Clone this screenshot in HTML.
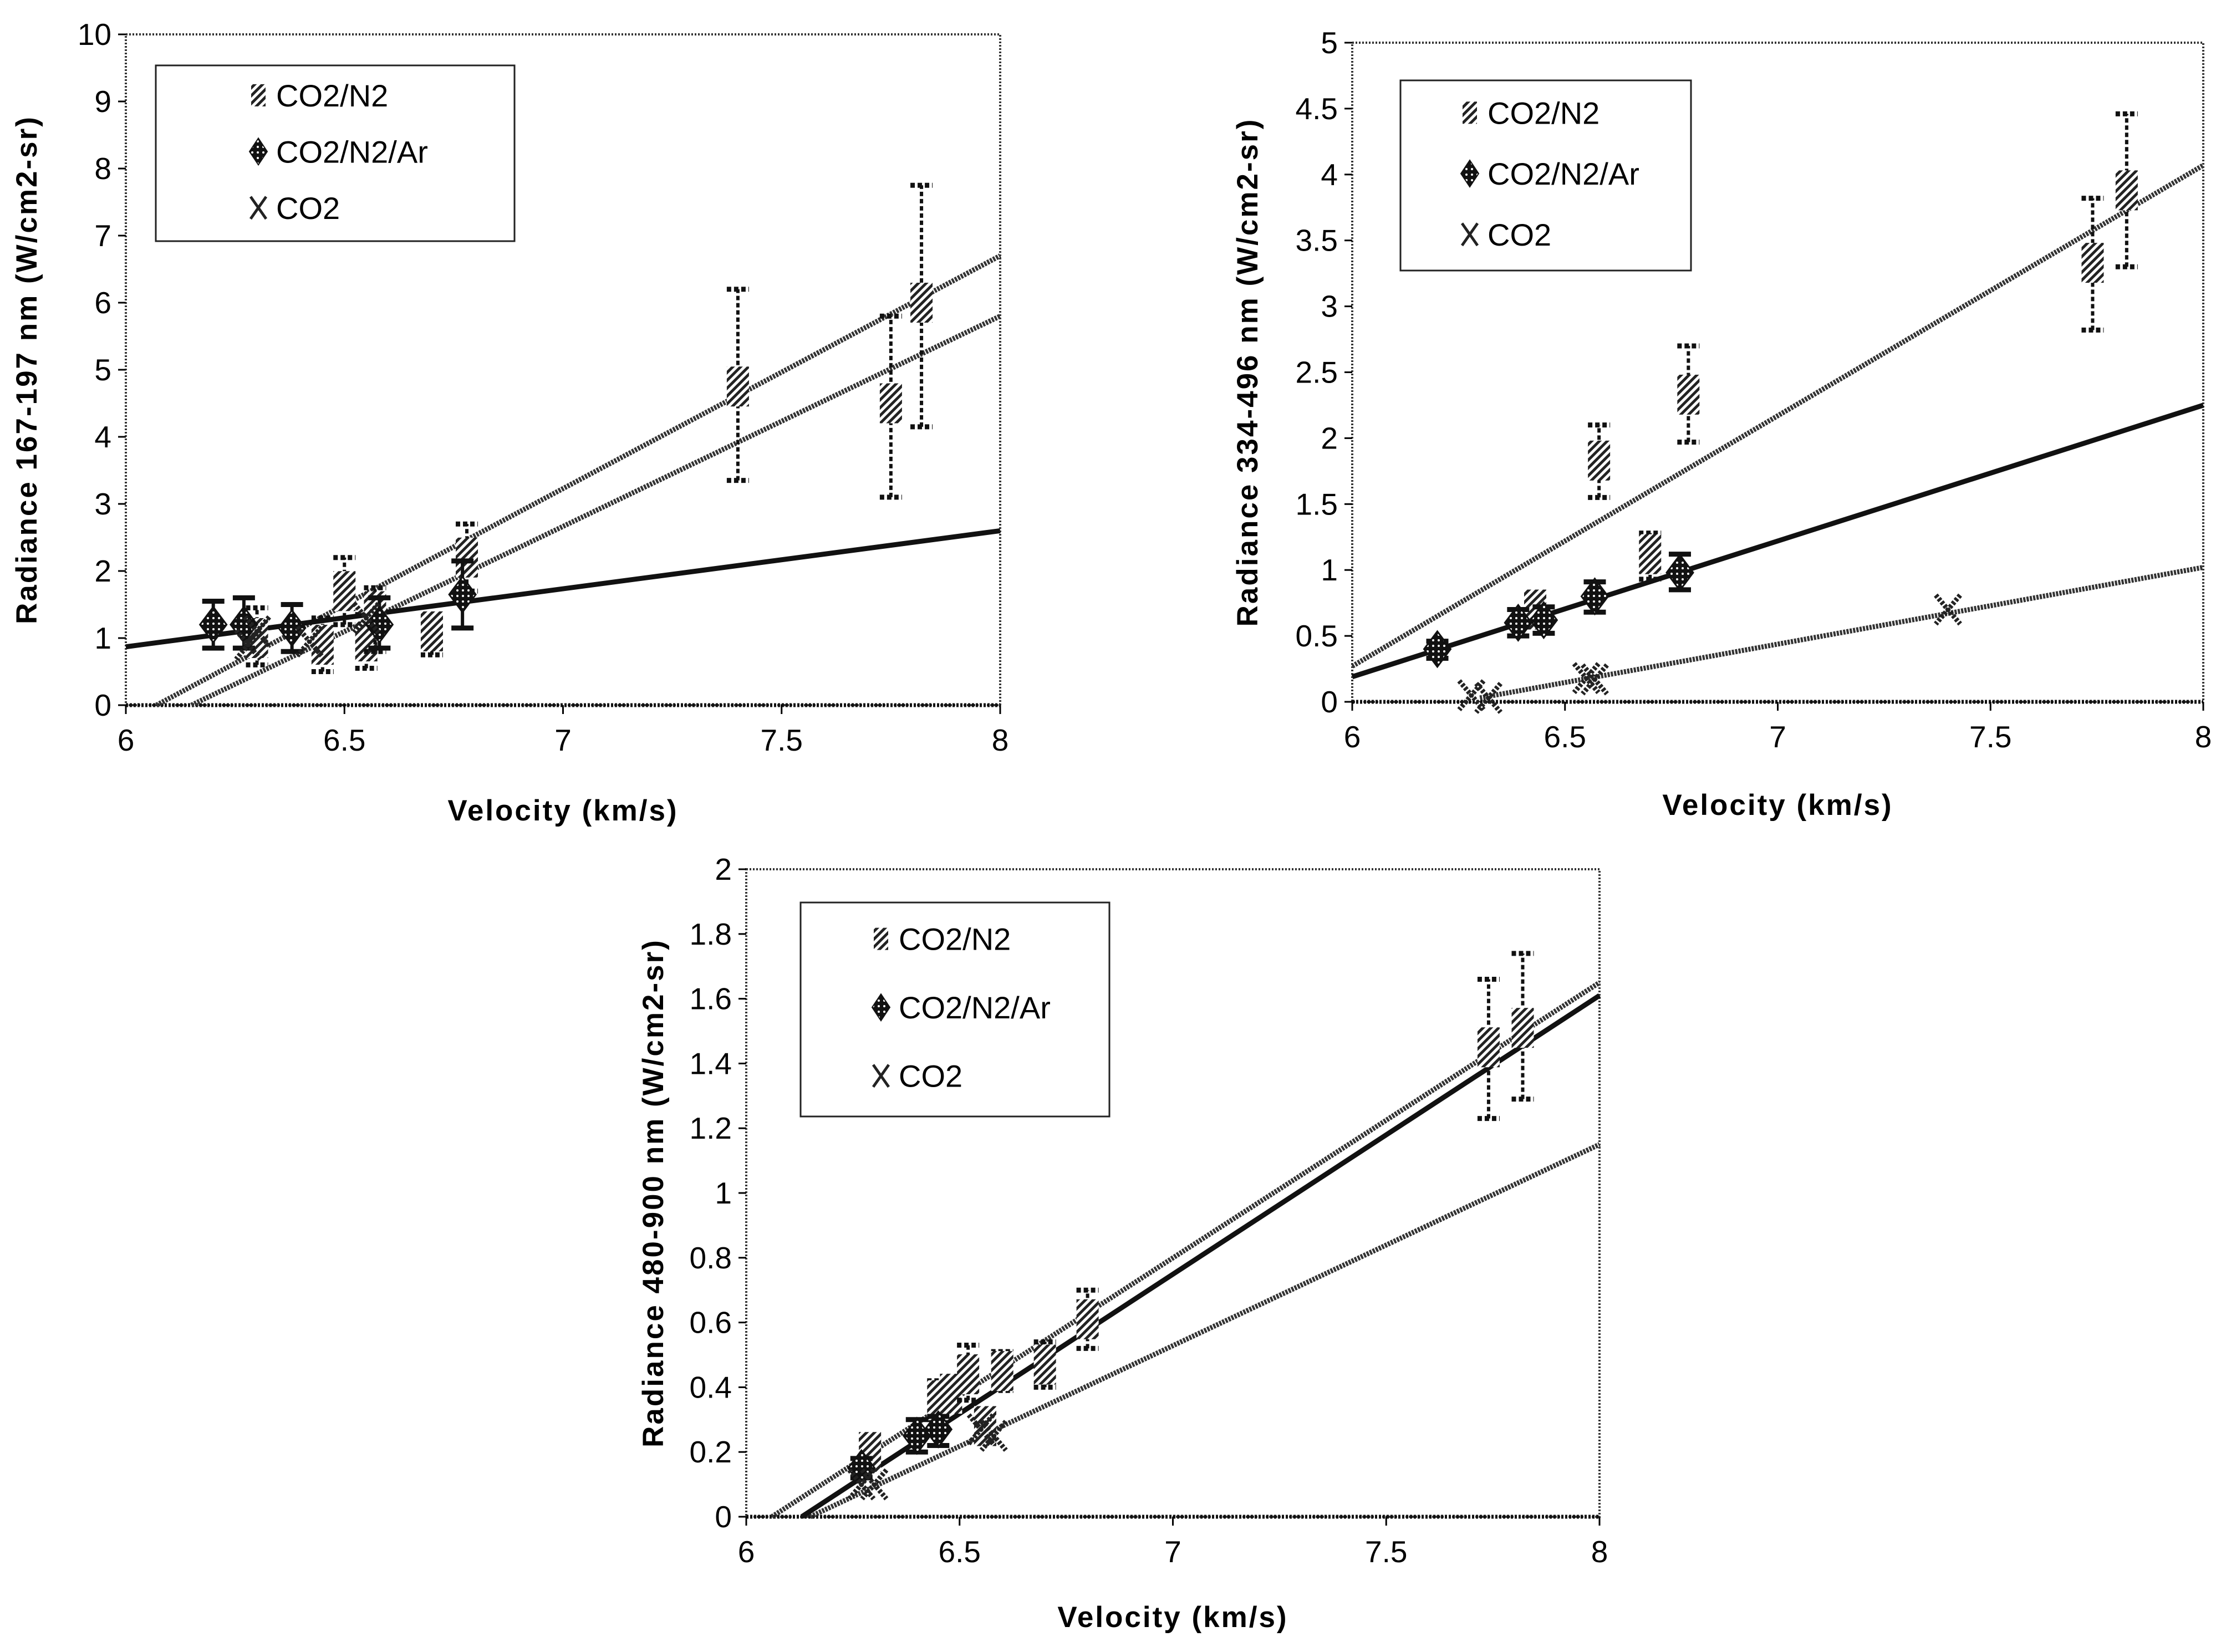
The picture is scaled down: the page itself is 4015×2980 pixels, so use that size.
<!DOCTYPE html>
<html><head><meta charset="utf-8">
<style>
html,body{margin:0;padding:0;background:#fff;}
svg{display:block;}
text{font-family:"Liberation Sans",sans-serif;fill:#000;}
.tick{font-size:55px;}
.title{font-size:53px;font-weight:bold;letter-spacing:3px;}
.leg{font-size:56px;}
</style></head>
<body>
<svg id="fig" width="4015" height="2980" viewBox="0 0 4015 2980" xmlns="http://www.w3.org/2000/svg">
<defs>
<pattern id="hatch" width="10" height="10" patternUnits="userSpaceOnUse" patternTransform="rotate(45)">
<rect width="10" height="10" fill="#fff"/><rect width="5" height="10" fill="#222"/></pattern>
<pattern id="dots" width="10" height="10" patternUnits="userSpaceOnUse">
<rect width="10" height="10" fill="#111"/><circle cx="5" cy="5" r="2" fill="#fff"/></pattern>
</defs>
</svg>
<script>
// ---- Chart 1 data (167-197 nm) ----
const c1N2x=[6.3,6.45,6.5,6.55,6.57,6.7,6.78,7.4,7.75,7.82];
const c1N2y=[1.0,0.9,1.7,0.95,1.4,1.1,2.2,4.75,4.5,6.0];
const c1N2lo=[0.6,0.5,1.2,0.55,0.8,0.75,1.7,3.35,3.1,4.15];
const c1N2hi=[1.45,1.3,2.2,1.35,1.75,1.3,2.7,6.2,5.8,7.75];
const c1Arx=[6.2,6.27,6.38,6.58,6.77];
const c1Ary=[1.2,1.2,1.15,1.2,1.65];
const c1Arlo=[0.85,0.85,0.8,0.85,1.15];
const c1Arhi=[1.55,1.6,1.5,1.6,2.15];
const c1CO2x=[6.28,6.3,6.42,6.55];
const c1CO2y=[0.9,1.1,0.95,1.3];
const c1Fits=[[6.07,0,8,6.7,'N2'],[6.15,0,8,5.8,'CO2'],[6,0.87,8,2.6,'Ar']];
const c1Yticks=[0,1,2,3,4,5,6,7,8,9,10];
const c1Xticks=[6,6.5,7,7.5,8];

// ---- Chart 2 data (334-496 nm) ----
const c2N2x=[6.43,6.58,6.7,6.79,7.74,7.82];
const c2N2y=[0.7,1.83,1.12,2.33,3.33,3.88];
const c2N2lo=[0.6,1.55,0.93,1.97,2.82,3.3];
const c2N2hi=[0.82,2.1,1.28,2.7,3.82,4.46];
const c2Arx=[6.2,6.39,6.45,6.57,6.77];
const c2Ary=[0.4,0.6,0.62,0.8,0.98];
const c2Arlo=[0.33,0.5,0.52,0.68,0.85];
const c2Arhi=[0.46,0.7,0.72,0.91,1.12];
const c2CO2x=[6.28,6.32,6.55,6.57,7.4];
const c2CO2y=[0.05,0.03,0.18,0.17,0.7];
const c2Fits=[[6,0.27,8,4.07,'N2'],[6.3,0.03,8,1.02,'CO2'],[6,0.19,8,2.25,'Ar']];
const c2Yticks=[0,0.5,1,1.5,2,2.5,3,3.5,4,4.5,5];
const c2Xticks=[6,6.5,7,7.5,8];

// ---- Chart 3 data (480-900 nm) ----
const c3N2x=[6.29,6.45,6.48,6.52,6.56,6.6,6.7,6.8,7.74,7.82];
const c3N2y=[0.2,0.36,0.38,0.44,0.28,0.45,0.47,0.61,1.45,1.51];
const c3N2lo=[0.17,0.3,0.33,0.36,0.23,0.39,0.4,0.52,1.23,1.29];
const c3N2hi=[0.24,0.42,0.42,0.53,0.32,0.51,0.54,0.7,1.66,1.74];
const c3Arx=[6.27,6.4,6.45];
const c3Ary=[0.15,0.25,0.27];
const c3Arlo=[0.12,0.2,0.22];
const c3Arhi=[0.18,0.3,0.31];
const c3CO2x=[6.27,6.3,6.55,6.58];
const c3CO2y=[0.1,0.1,0.27,0.25];
const c3Fits=[[6.06,0,8,1.65,'N2'],[6.15,0,8,1.15,'CO2'],[6.13,0,8,1.61,'Ar']];
const c3Yticks=[0,0.2,0.4,0.6,0.8,1,1.2,1.4,1.6,1.8,2];
const c3Xticks=[6,6.5,7,7.5,8];

const NS='http://www.w3.org/2000/svg';
const fig=document.getElementById('fig');
function mk(tag,attrs,parent){const e=document.createElementNS(NS,tag);for(const k in attrs)e.setAttribute(k,attrs[k]);(parent||fig).appendChild(e);return e;}

function drawChart(cfg){
  const g=mk('g',{});
  
  
  const L=cfg.L,R=cfg.R,T=cfg.T,B=cfg.B;
  const xs=v=>L+(v-6)/2*(R-L);
  const ys=v=>B-(v-cfg.ymin)/(cfg.ymax-cfg.ymin)*(B-T);
  const fr=mk('rect',{x:L,y:T,width:R-L,height:B-T,fill:'none',stroke:'#333','stroke-width':4,'stroke-dasharray':'3 3'},g);
  
  
  mk('line',{x1:L,y1:B,x2:R,y2:B,stroke:'#111','stroke-width':7,'stroke-dasharray':'4 3'},g);
  cfg.yt.forEach(v=>{
    mk('line',{x1:L-14,y1:ys(v),x2:L,y2:ys(v),stroke:'#000','stroke-width':3},g);
    const t=mk('text',{x:L-26,y:ys(v)+19,'text-anchor':'end',class:'tick'},g);
    t.textContent=String(v);
    
    
  });
  cfg.xt.forEach(v=>{
    mk('line',{x1:xs(v),y1:B,x2:xs(v),y2:B+16,stroke:'#000','stroke-width':3},g);
    const t=mk('text',{x:xs(v),y:B+82,'text-anchor':'middle',class:'tick'},g);
    t.textContent=String(v);
    
    
  });
  cfg.fits.forEach(f=>{
    const ln=mk('line',{x1:xs(f[0]),y1:ys(f[1]),x2:xs(f[2]),y2:ys(f[3]),stroke:f[4]==='Ar'?'#111':'#333','stroke-width':f[4]==='Ar'?9:9,'stroke-dasharray':f[4]==='Ar'?'none':'4 2'},g);
    
    
  });
  function errbar(x,lo,hi,solid){
    const a={stroke:'#111','stroke-width':6};
    if(!solid)a['stroke-dasharray']='8 5';
    mk('line',Object.assign({x1:xs(x),y1:ys(lo),x2:xs(x),y2:ys(hi)},a),g);
    mk('line',Object.assign({x1:xs(x)-20,y1:ys(lo),x2:xs(x)+20,y2:ys(lo)},a,{'stroke-width':9}),g);
    mk('line',Object.assign({x1:xs(x)-20,y1:ys(hi),x2:xs(x)+20,y2:ys(hi)},a,{'stroke-width':9}),g);
  }
  cfg.n2x.forEach((x,i)=>{
    errbar(x,cfg.n2lo[i],cfg.n2hi[i],false);
    const r=mk('rect',{x:xs(x)-20,y:ys(cfg.n2y[i])-36,width:40,height:72,fill:'url(#hatch)'},g);
    
    
  });
  cfg.arx.forEach((x,i)=>{
    errbar(x,cfg.arlo[i],cfg.arhi[i],true);
    const cx=xs(x),cy=ys(cfg.ary[i]);
    const p=mk('polygon',{points:`${cx},${cy-32} ${cx+24},${cy} ${cx},${cy+32} ${cx-24},${cy}`,fill:'url(#dots)',stroke:'#111','stroke-width':3},g);
    
    
  });
  cfg.cox.forEach((x,i)=>{
    const cx=xs(x),cy=ys(cfg.coy[i]);
    const p=mk('path',{d:`M${cx-22},${cy-26}L${cx+22},${cy+26}M${cx+22},${cy-26}L${cx-22},${cy+26}`,stroke:'#222','stroke-width':9,'stroke-dasharray':'5 3'},g);
    
    
  });
  const lg=cfg.leg;
  const lb=mk('rect',{x:lg[0],y:lg[1],width:lg[2]-lg[0],height:lg[3]-lg[1],fill:'#fff',stroke:'#222','stroke-width':3},g);
  
  
  const h=lg[3]-lg[1];const mx=lg[0]+cfg.legOff;
  const names=['CO2/N2','CO2/N2/Ar','CO2'];
  names.forEach((n,i)=>{
    const cy=lg[1]+h*(0.17+0.32*i);
    if(i===0)mk('rect',{x:mx-13,y:cy-20,width:26,height:40,fill:'url(#hatch)'},g);
    if(i===1)mk('polygon',{points:`${mx},${cy-24} ${mx+16},${cy} ${mx},${cy+24} ${mx-16},${cy}`,fill:'url(#dots)',stroke:'#111','stroke-width':2},g);
    if(i===2)mk('path',{d:`M${mx-14},${cy-20}L${mx+14},${cy+20}M${mx+14},${cy-20}L${mx-14},${cy+20}`,stroke:'#222','stroke-width':5},g);
    const t=mk('text',{x:mx+32,y:cy+20,class:'leg'},g);
    t.textContent=n;
    
    
  });
  const xt=mk('text',{x:(L+R)/2,y:cfg.xtY,'text-anchor':'middle',class:'title'},g);
  xt.textContent='Velocity (km/s)';
  
  
  const yt=mk('text',{x:0,y:0,'text-anchor':'middle',class:'title',transform:`translate(${cfg.ytX},${(T+B)/2}) rotate(-90)`},g);
  yt.textContent=cfg.ytitle;
  
  
}

drawChart({name:'chart-167-197nm',L:227,R:1804,T:62,B:1272,ymin:0,ymax:10,yt:c1Yticks,xt:c1Xticks,
 fits:c1Fits,n2x:c1N2x,n2y:c1N2y,n2lo:c1N2lo,n2hi:c1N2hi,arx:c1Arx,ary:c1Ary,arlo:c1Arlo,arhi:c1Arhi,cox:c1CO2x,coy:c1CO2y,
 leg:[281,118,928,435],legOff:185,xtY:1480,ytX:66,ytitle:'Radiance 167-197 nm (W/cm2-sr)'});
drawChart({name:'chart-334-496nm',L:2439,R:3974,T:77,B:1266,ymin:0,ymax:5,yt:c2Yticks,xt:c2Xticks,
 fits:c2Fits,n2x:c2N2x,n2y:c2N2y,n2lo:c2N2lo,n2hi:c2N2hi,arx:c2Arx,ary:c2Ary,arlo:c2Arlo,arhi:c2Arhi,cox:c2CO2x,coy:c2CO2y,
 leg:[2526,145,3050,488],legOff:125,xtY:1470,ytX:2268,ytitle:'Radiance 334-496 nm (W/cm2-sr)'});
drawChart({name:'chart-480-900nm',L:1346,R:2885,T:1568,B:2736,ymin:0,ymax:2,yt:c3Yticks,xt:c3Xticks,
 fits:c3Fits,n2x:c3N2x,n2y:c3N2y,n2lo:c3N2lo,n2hi:c3N2hi,arx:c3Arx,ary:c3Ary,arlo:c3Arlo,arhi:c3Arhi,cox:c3CO2x,coy:c3CO2y,
 leg:[1444,1628,2001,2014],legOff:145,xtY:2935,ytX:1196,ytitle:'Radiance 480-900 nm (W/cm2-sr)'});
</script>
</body></html>
